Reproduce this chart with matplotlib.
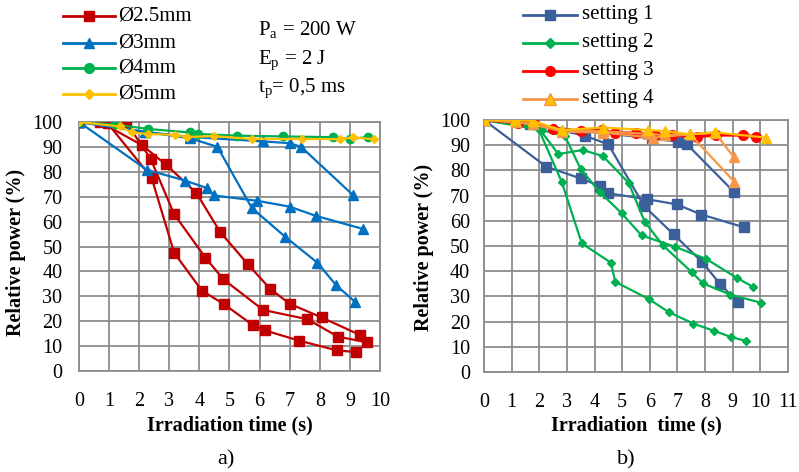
import matplotlib.pyplot as plt
from matplotlib.lines import Line2D

plt.rcParams['font.family'] = ['Liberation Serif', 'DejaVu Serif']

# ---- panel a) : Ø2.5 / Ø3 / Ø4 / Ø5 mm ----
d25_x = [[0, 0.7, 2.08, 2.88, 3.9, 4.68, 5.6, 6.35, 7.0, 8.06, 9.33],
         [0, 1.56, 2.38, 3.16, 4.2, 4.8, 6.12, 7.59, 8.6, 9.58],
         [0, 0.95, 2.41, 3.16, 4.08, 4.82, 5.79, 6.18, 7.31, 8.56, 9.2]]
d25_y = [[100, 100, 90.8, 83, 71.5, 56, 43, 33, 27, 21.5, 14.5],
         [100, 100, 85.2, 63, 45.5, 36.8, 24.5, 20.8, 13.8, 11.5],
         [100, 99.5, 77.7, 47.5, 32.3, 26.8, 18.3, 16.3, 12.2, 8.3, 7.6]]

d3_x = [[0, 2.2, 3.7, 6.12, 7.0, 7.38, 9.09],
        [0, 2.25, 3.52, 4.24, 4.48, 5.9, 7.0, 7.87, 9.45],
        [0, 2.2, 3.69, 4.6, 5.74, 6.84, 7.92, 8.54, 9.17]]
d3_y = [[100, 96, 94, 92.2, 91.5, 90, 70.8],
        [100, 80.8, 76.5, 73.5, 70.5, 68.4, 66, 62.3, 57],
        [100, 96, 93.5, 90, 65.5, 54, 43.5, 34.5, 27.8]]

d4_x = [0, 1.2, 2.3, 3.69, 3.96, 5.24, 6.79, 8.45, 9.0, 9.6]
d4_y = [100, 99, 97.2, 95.8, 95.2, 94.5, 94.2, 93.9, 93.1, 94]

d5_x = [0, 1.36, 1.75, 2.3, 3.19, 3.58, 4.5, 5.74, 7.4, 8.67, 9.11, 9.8]
d5_y = [100, 98.2, 95.8, 95.2, 94.8, 94, 94.3, 93.2, 93.2, 93.1, 93.8, 93.1]

# ---- panel b) : settings 1-4 ----
s1_x = [[0, 6.07, 7.02, 7.35, 9.06],
        [0, 2.25, 3.5, 4.2, 4.5, 5.89, 6.98, 7.86, 9.42],
        [0, 1.66, 3.65, 4.5, 5.8, 6.86, 7.89, 8.55, 9.18]]
s1_y = [[100, 92.7, 91.4, 90.3, 71.3],
        [100, 81.5, 76.8, 73.8, 70.9, 68.6, 66.5, 62.5, 57.4],
        [100, 98.5, 93.8, 90.3, 65.8, 54.6, 43.7, 34.8, 27.8]]

s2_x = [[0, 1.95, 2.81, 3.54, 4.59, 4.75, 5.97, 6.68, 7.58, 8.33, 8.94, 9.49],
        [0, 2.0, 2.69, 3.57, 4.3, 5.23, 5.82, 6.47, 7.52, 7.92, 8.91, 10.02],
        [0, 2.1, 2.93, 3.5, 4.18, 4.98, 5.7, 6.91, 8.05, 9.14, 9.73]]
s2_y = [[100, 97, 75.5, 51, 43.4, 35.8, 28.9, 23.8, 19.2, 16.3, 13.9, 12.3],
        [100, 96.5, 86.5, 88.1, 85.7, 75.1, 59.5, 50.3, 39.6, 35.2, 30.7, 27.5],
        [100, 96, 93.6, 80.5, 71.5, 63, 54.2, 49.7, 44.8, 37.4, 33.8]]

s3_x = [0, 1.24, 1.78, 2.5, 3.5, 4.26, 4.74, 5.5, 6.2, 6.79, 7.69, 8.4, 9.37, 9.86]
s3_y = [100, 98.9, 99.3, 96.5, 95.5, 96, 95, 94.8, 94.2, 94, 93.4, 94, 94, 93.4]

s4_x = [[0, 1.76, 2.81, 4.3, 6.11, 7.45, 8.35, 9.03],
        [0, 1.15, 2.81, 4.3, 5.94, 6.55, 7.45, 9.06]]
s4_y = [[100, 98.5, 95.4, 95, 93, 94.3, 95, 85.4],
        [100, 99.3, 96, 95.5, 94.5, 94, 94.4, 75.5]]
s4b_x = [0, 1.12, 1.76, 2.81, 4.31, 5.94, 6.55, 7.45, 8.35, 10.22]
s4b_y = [100, 100, 99.6, 96, 97, 96, 95.6, 94.3, 95.1, 93]

labels_a = ['Ø2.5mm', 'Ø3mm', 'Ø4mm', 'Ø5mm']
labels_b = ['setting 1', 'setting 2', 'setting 3', 'setting 4']

RED, BLUE, GREEN, YELLOW = '#C00000', '#0070C0', '#00B050', '#FFC000'
DBLUE, BRED, ORANGE = '#3A5F9B', '#FF0000', '#F79646'

W, H = 799, 472
fig = plt.figure(figsize=(W / 100, H / 100), dpi=100)
axa = fig.add_axes([79 / W, 1 - 371 / H, 301 / W, 249 / H])
axb = fig.add_axes([484 / W, 1 - 372 / H, 304 / W, 252 / H])

lw = 1.6
for xs, ys in zip(d25_x, d25_y):
    axa.plot(xs, ys, '-s', color=RED, lw=lw, ms=6.5, zorder=3)
for xs, ys in zip(d3_x, d3_y):
    axa.plot(xs, ys, '-^', color=BLUE, lw=lw, ms=6.5, zorder=3)
axa.plot(d4_x, d4_y, '-o', color=GREEN, lw=lw, ms=6, zorder=4)
axa.plot(d5_x, d5_y, '-D', color=YELLOW, lw=lw, ms=4.5, zorder=5)

for xs, ys in zip(s1_x, s1_y):
    axb.plot(xs, ys, '-s', color=DBLUE, lw=lw, ms=7, zorder=3)
for xs, ys in zip(s2_x, s2_y):
    axb.plot(xs, ys, '-D', color=GREEN, lw=lw, ms=4.5, zorder=4)
axb.plot(s3_x, s3_y, '-o', color=BRED, lw=lw + 0.6, ms=7, zorder=5)
for xs, ys in zip(s4_x, s4_y):
    axb.plot(xs, ys, '-^', color=ORANGE, lw=lw, ms=7.5, zorder=6)
axb.plot(s4b_x, s4b_y, '-^', color=YELLOW, lw=lw, ms=7.5, zorder=7)

for ax, xmax, ypad, ylx, yly in ((axa, 10, 12, -0.176, 0.476), (axb, 11, 10, -0.164, 0.494)):
    ax.set_xlim(0, xmax)
    ax.set_ylim(0, 100)
    ax.set_xticks(range(0, xmax + 1))
    ax.set_yticks(range(0, 101, 10))
    ax.grid(True, color='#8C8C8C', lw=1.3)
    ax.set_axisbelow(True)
    for s in ax.spines.values():
        s.set_color('#8C8C8C')
        s.set_linewidth(1.3)
    ax.tick_params(length=0, labelsize=14.5)
    ax.tick_params(axis='x', pad=15)
    ax.tick_params(axis='y', pad=ypad)
    ax.set_ylabel('Relative power (%)', fontsize=14.5, fontweight='bold')
    ax.yaxis.set_label_coords(ylx, yly)

axa.set_xlabel('Irradiation time (s)', fontsize=14.5, fontweight='bold')
axb.set_xlabel('Irradiation  time (s)', fontsize=14.5, fontweight='bold')
axa.xaxis.set_label_coords(0.5, -0.177)
axb.xaxis.set_label_coords(0.5, -0.172)


# hand-placed legends (pixel positions from the reference)
def legend_row(x0, x1, xt, y, color, marker, ms, label, mfc=None):
    fy = 1 - y / H
    fig.add_artist(Line2D([x0 / W, x1 / W], [fy, fy], color=color, lw=2,
                          transform=fig.transFigure))
    fig.add_artist(Line2D([(x0 + x1) / 2 / W], [fy], color=color, marker=marker,
                          ms=ms, mfc=mfc or color, mec=color, transform=fig.transFigure))
    fig.text(xt / W, fy, label, fontsize=15, va='center', ha='left')


sty_a = [(RED, 's', 7), (BLUE, '^', 7), (GREEN, 'o', 7), (YELLOW, 'D', 5)]
for (c, m, ms), lab, y in zip(sty_a, labels_a, [16, 43, 68, 94]):
    legend_row(63, 115, 118, y, c, m, ms, lab)

sty_b = [(DBLUE, 's', 7, None), (GREEN, 'D', 5, None), (BRED, 'o', 7, None),
         (ORANGE, '^', 8, YELLOW)]
for (c, m, ms, mfc), lab, y in zip(sty_b, labels_b, [15, 43, 71, 99]):
    legend_row(523, 577, 582, y, c, m, ms, lab, mfc)

fig.text(258 / W, 1 - 35 / H, r'P$_{\mathregular{a}}$ = 200 W', fontsize=15, va='baseline')
fig.text(258 / W, 1 - 64 / H, r'E$_{\mathregular{p}}$ = 2 J', fontsize=15, va='baseline')
fig.text(258 / W, 1 - 92 / H, r't$_{\mathregular{p}}$= 0,5 ms', fontsize=15, va='baseline')

fig.text(226 / W, 1 - 460 / H, 'a)', fontsize=16, ha='center', va='center')
fig.text(626 / W, 1 - 460 / H, 'b)', fontsize=16, ha='center', va='center')

fig.savefig('out.png', dpi=100)
